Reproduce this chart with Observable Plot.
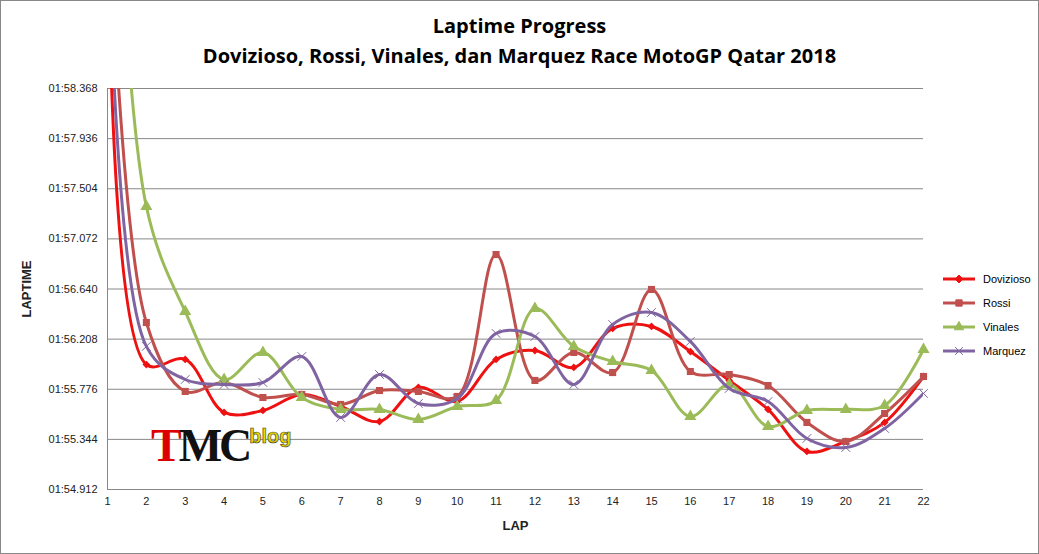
<!DOCTYPE html>
<html><head><meta charset="utf-8">
<script src="https://cdn.jsdelivr.net/npm/d3@7"></script>
<script src="https://cdn.jsdelivr.net/npm/@observablehq/plot@0.6"></script>
<style>
body{margin:0;font-family:Calibri,"Liberation Sans",Arial,sans-serif;background:#fff}
#wrap{position:relative;width:1037px;height:552px;border:1px solid #888;overflow:hidden}
#title{height:78px;text-align:center;font-weight:bold;font-size:20px;line-height:30px;padding-top:10px;box-sizing:border-box;font-family:"Open Sans",Arial,sans-serif}
#legend{position:absolute;left:940px;top:266px;font-size:11px;font-family:"Liberation Sans",Arial,sans-serif}
#legend div{height:24px;display:flex;align-items:center}
#legend svg{margin-right:6px}
#logo{position:absolute;left:150px;top:418px;font-family:"Liberation Serif",serif;font-weight:bold;font-size:46px;letter-spacing:-3px}
</style></head><body>
<div id="wrap">
<div id="title">Laptime Progress<br>Dovizioso, Rossi, Vinales, dan Marquez Race MotoGP Qatar 2018</div>
<div id="chart"></div>
<div id="legend"></div>
<div id="logo"><span style="color:#d00">T</span><span style="color:#111">MC</span><span style="font-family:'Liberation Sans';font-size:20px;color:#e8d800;letter-spacing:0;-webkit-text-stroke:0.6px #333;vertical-align:18px">blog</span></div>
</div>
<script>
const laps = [1,2,3,4,5,6,7,8,9,10,11,12,13,14,15,16,17,18,19,20,21,22];
const dovizioso = [120.2,115.989,116.033,115.576,115.593,115.731,115.627,115.498,115.791,115.671,116.033,116.110,115.964,116.300,116.317,116.101,115.852,115.602,115.240,115.326,115.490,115.886];
const rossi = [120.2,116.351,115.757,115.834,115.705,115.731,115.645,115.765,115.757,115.714,116.937,115.852,116.093,115.920,116.636,115.929,115.903,115.808,115.490,115.326,115.567,115.886];
const vinales = [122.0,117.351,116.446,115.860,116.093,115.705,115.602,115.602,115.515,115.627,115.679,116.472,116.145,116.015,115.938,115.541,115.817,115.455,115.593,115.602,115.636,116.119];
const marquez = [120.0,116.145,115.860,115.817,115.834,116.058,115.533,115.903,115.653,115.696,116.257,116.231,115.817,116.334,116.438,116.188,115.783,115.671,115.352,115.274,115.438,115.740];
const yTicks = [114.912,115.344,115.776,116.208,116.640,117.072,117.504,117.936,118.368];
const riders = [
  {name:"Dovizioso", values:dovizioso, color:"#ee1111", symbol:"diamond2", r:3.5},
  {name:"Rossi", values:rossi, color:"#c0504d", symbol:"square", r:4},
  {name:"Vinales", values:vinales, color:"#9bbb59", symbol:"triangle", r:4.5},
  {name:"Marquez", values:marquez, color:"#8064a2", symbol:"times", r:4}
];
const fmt = v => { const m=Math.floor(v/60), s=v-m*60; return String(m).padStart(2,"0")+":"+s.toFixed(3).padStart(6,"0"); };
const marks = [
  Plot.ruleY(yTicks,{stroke:"#888",strokeWidth:1}),
  Plot.ruleX([1],{stroke:"#888"})
];
for (const r of riders) {
  const data = laps.map((l,i)=>({lap:l,t:r.values[i]}));
  marks.push(Plot.line(data,{x:"lap",y:"t",stroke:r.color,strokeWidth:3,curve:"catmull-rom",clip:true}));
  marks.push(Plot.dot(data.filter(d=>d.lap>1),{x:"lap",y:"t",symbol:()=>r.symbol,r:r.r,fill:r.symbol==="times"?"none":r.color,stroke:r.color,strokeWidth:r.symbol==="times"?1:0}));
}
const chart = Plot.plot({
  width:1037, height:474,
  marginTop:9, marginLeft:106, marginRight:115, marginBottom:64,
  style:{fontFamily:"'Liberation Sans',Arial,sans-serif",fontSize:"11px",color:"#222"},
  x:{domain:[1,22],ticks:laps,tickFormat:d=>d,label:"LAP",labelArrow:"none",labelAnchor:"center",labelOffset:40,tickSize:0,tickPadding:8},
  y:{domain:[114.912,118.368],ticks:yTicks,tickFormat:fmt,label:"LAPTIME",labelArrow:"none",labelAnchor:"center",labelOffset:86,tickSize:0,tickPadding:10},
  symbol:{type:"identity"},
  marks
});
d3.select(chart).selectAll("[aria-label='x-axis label'] text, [aria-label='y-axis label'] text").style("font-weight","bold").style("font-size","13px");
document.getElementById("chart").append(chart);
const lg = d3.select("#legend");
for (const r of riders) {
  const row = lg.append("div");
  const s = row.append("svg").attr("width",36).attr("height",12);
  s.append("line").attr("x1",2).attr("x2",34).attr("y1",6).attr("y2",6).attr("stroke",r.color).attr("stroke-width",3);
  s.append("path").attr("transform","translate(18,6)").attr("d",d3.symbol(r.symbol==="diamond2"?d3.symbolDiamond2:r.symbol==="square"?d3.symbolSquare:r.symbol==="triangle"?d3.symbolTriangle:d3.symbolTimes, 40)()).attr("fill",r.color).attr("stroke",r.color);
  row.append("span").text(r.name);
}
</script>
</body></html>
